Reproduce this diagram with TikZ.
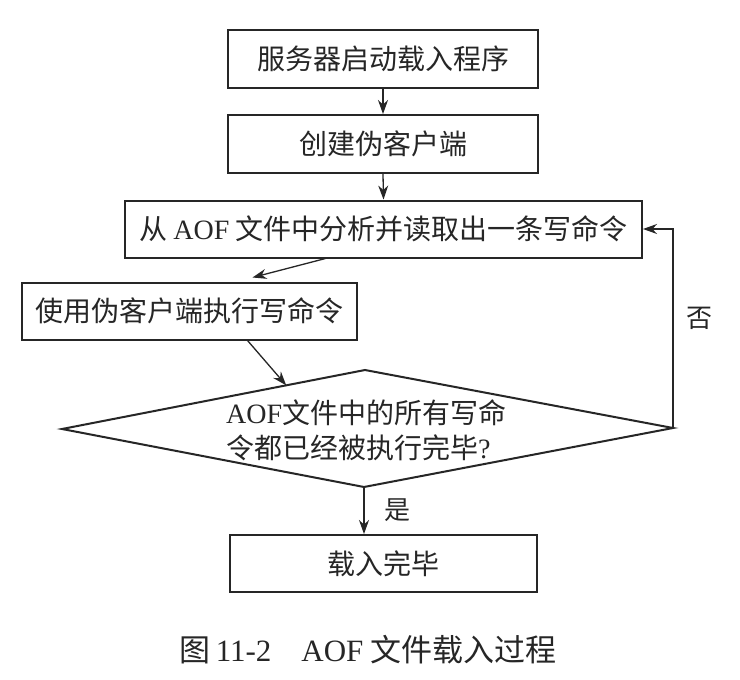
\documentclass[tikz,border=0pt]{standalone}
\usepackage{fontspec}
\setmainfont{Noto Sans CJK SC}
\newfontfamily\latf{Liberation Serif}
\usetikzlibrary{arrows.meta,calc}
\tikzset{
  box/.style={draw=black!85, line width=2pt, inner sep=0pt, text=black!85,
    font=\fontsize{28}{32}\selectfont},
  arr/.style={draw=black!85, line width=1.3pt, -{Stealth[length=14pt,width=10pt]}},
  lbl/.style={text=black!85, font=\fontsize{26}{30}\selectfont, inner sep=0pt},
}
\begin{document}
\begin{tikzpicture}[x=1pt,y=-1pt]
\useasboundingbox[fill=white] (0,0) rectangle (740,680);
\node[box, minimum width=310pt, minimum height=58pt] (b1) at (383,59) {服务器启动载入程序};
\node[box, minimum width=310pt, minimum height=58pt] (b2) at (383,144) {创建伪客户端};
\node[box, minimum width=517pt, minimum height=57pt] (b3) at (383.5,229) {从 {\latf AOF} 文件中分析并读取出一条写命令};
\node[box, minimum width=335pt, minimum height=57pt] (b4) at (189.5,311) {使用伪客户端执行写命令};
\coordinate (dl) at (62,429);
\coordinate (dt) at (365,370);
\coordinate (dr) at (673,428);
\coordinate (db) at (364,487);
\draw[draw=black!85, line width=2pt, line join=miter] (dl) -- (dt) -- (dr) -- (db) -- cycle;
\node[lbl, align=left, font=\fontsize{28}{35}\selectfont, anchor=west] (d) at (226,430)
  {{\latf AOF}文件中的所有写命\\令都已经被执行完毕{\latf ?}};
\coordinate (de) at ($(dl)!0.74!(dt)$);
\node[box, minimum width=307pt, minimum height=57pt] (b5) at (383.5,563.5) {载入完毕};
\draw[arr] (b1.south) -- (b2.north);
\draw[arr] (b2.south) -- (b3.north);
\draw[arr] ([xshift=-58pt]b3.south) -- ([xshift=63pt,yshift=4pt]b4.north);
\draw[arr] ([xshift=58pt]b4.south) -- (de);
\draw[arr] (dr) |- (b3.east);
\draw[arr] (db) -- (db |- b5.north);
\node[lbl] (no) at (699,318) {否};
\node[lbl] (yes) at (397,510) {是};
\node[lbl, font=\fontsize{31}{34}\selectfont] (cap) at (368,650)
  {图\,{\latf 11-2}\hspace{30pt}{\latf AOF} 文件载入过程};
\end{tikzpicture}
\end{document}
